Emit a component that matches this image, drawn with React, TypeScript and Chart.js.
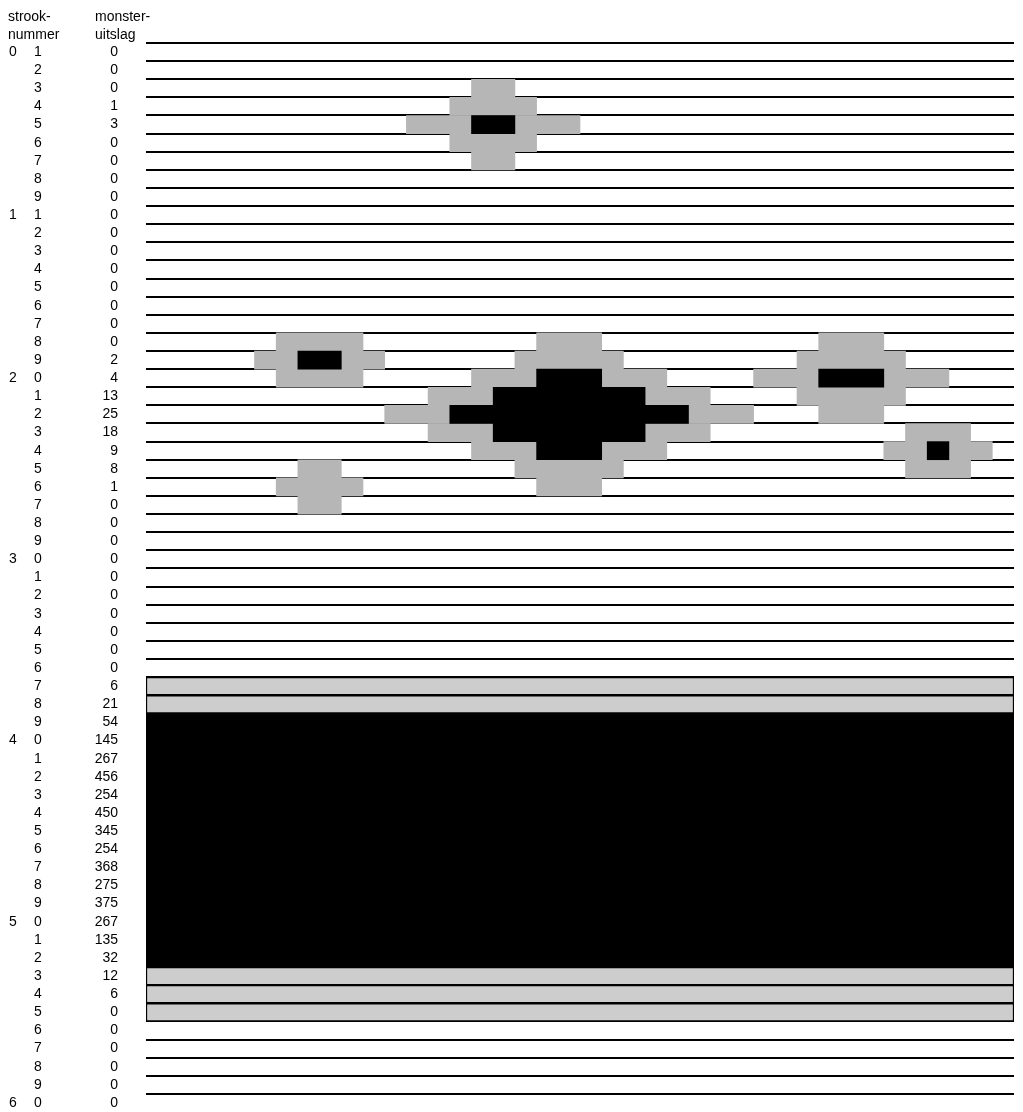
import { useEffect, useRef } from "react";
import { Chart, registerables } from "chart.js";

Chart.register(...registerables);

// strook numbers (row labels), top to bottom
const strook = [
  "01", "02", "03", "04", "05", "06", "07", "08", "09",
  "11", "12", "13", "14", "15", "16", "17", "18", "19",
  "20", "21", "22", "23", "24", "25", "26", "27", "28", "29",
  "30", "31", "32", "33", "34", "35", "36", "37", "38", "39",
  "40", "41", "42", "43", "44", "45", "46", "47", "48", "49",
  "50", "51", "52", "53", "54", "55", "56", "57", "58", "59",
  "60",
];

// monster-uitslag per strook
const uitslag = [
  0, 0, 0, 1, 3, 0, 0, 0, 0,
  0, 0, 0, 0, 0, 0, 0, 0, 2,
  4, 13, 25, 18, 9, 8, 1, 0, 0, 0,
  0, 0, 0, 0, 0, 0, 0, 6, 21, 54,
  145, 267, 456, 254, 450, 345, 254, 368, 275, 375,
  267, 135, 32, 12, 6, 0, 0, 0, 0, 0,
  0,
];

// horizontal position along the strip, in half-cell units
const X_MIN = 0;
const X_MAX = 40;

// [strook, from, to]
const grayCells: [string, number, number][] = [
  ["03", 15, 17], ["04", 14, 18], ["05", 12, 15], ["05", 17, 20], ["06", 14, 18], ["07", 15, 17],
  ["18", 6, 10], ["18", 18, 21], ["18", 31, 34],
  ["19", 5, 7], ["19", 9, 11], ["19", 17, 22], ["19", 30, 35],
  ["20", 6, 10], ["20", 15, 18], ["20", 21, 24], ["20", 28, 31], ["20", 34, 37],
  ["21", 13, 16], ["21", 23, 26], ["21", 30, 35],
  ["22", 11, 14], ["22", 25, 28], ["22", 31, 34],
  ["23", 13, 16], ["23", 23, 26], ["23", 35, 38],
  ["24", 15, 18], ["24", 21, 24], ["24", 34, 36], ["24", 37, 39],
  ["25", 7, 9], ["25", 17, 22], ["25", 35, 38],
  ["26", 6, 10], ["26", 18, 21],
  ["27", 7, 9],
];

const blackCells: [string, number, number][] = [
  ["05", 15, 17],
  ["19", 7, 9],
  ["20", 18, 21], ["20", 31, 34],
  ["21", 16, 23],
  ["22", 14, 25],
  ["23", 16, 23],
  ["24", 18, 21], ["24", 36, 37],
];

const grayBands = ["37", "38", "53", "54", "55"];
const blackBands = ["39", "40", "41", "42", "43", "44", "45", "46", "47", "48", "49", "50", "51", "52"];

const FONT = '"Liberation Sans", Arial, sans-serif';

export default function App() {
  const ref = useRef<HTMLCanvasElement>(null);

  useEffect(() => {
    if (!ref.current) return;

    const labelsPlugin = {
      id: "strookLabels",
      afterDraw(chart: any) {
        const ctx = chart.ctx;
        const yScale = chart.scales.y;
        ctx.save();
        ctx.fillStyle = "#000";
        ctx.font = `14px ${FONT}`;
        ctx.textAlign = "left";
        ctx.textBaseline = "alphabetic";
        ctx.fillText("strook-", 8, 21);
        ctx.fillText("nummer", 8, 39);
        ctx.fillText("monster-", 95, 21);
        ctx.fillText("uitslag", 95, 39);
        ctx.textAlign = "center";
        ctx.textBaseline = "middle";
        strook.forEach((s, i) => {
          const y = yScale.getPixelForValue(i);
          const tens = s.charAt(0);
          const unit = s.charAt(1);
          if (i === 0 || strook[i - 1].charAt(0) !== tens) {
            ctx.fillText(tens, 13, y);
          }
          ctx.fillText(unit, 38, y);
        });
        ctx.restore();
      },
    };

    const toBars = (cells: [string, number, number][]) =>
      cells.map(([r, a, b]) => ({ y: r, x: [a, b] }));
    const toBands = (rows: string[]) => rows.map((r) => ({ y: r, x: [X_MIN, X_MAX] }));

    const common = {
      grouped: false,
      barPercentage: 1,
      categoryPercentage: 1,
      borderSkipped: false,
    };

    const chart = new Chart(ref.current, {
      type: "bar",
      data: {
        labels: strook,
        datasets: [
          {
            label: "zwart",
            data: toBars(blackCells) as any,
            backgroundColor: "#000",
            borderWidth: 0,
            ...common,
          },
          {
            label: "grijs",
            data: toBars(grayCells) as any,
            backgroundColor: "#b6b6b6",
            borderWidth: 0,
            ...common,
          },
          {
            label: "band grijs",
            data: toBands(grayBands) as any,
            backgroundColor: "#cdcdcd",
            borderColor: "#000",
            borderWidth: 1.5,
            ...common,
          },
          {
            label: "band zwart",
            data: toBands(blackBands) as any,
            backgroundColor: "#000",
            borderColor: "#000",
            borderWidth: 0,
            ...common,
          },
        ],
      },
      options: {
        indexAxis: "y",
        animation: false,
        responsive: false,
        devicePixelRatio: 1,
        layout: { padding: { left: 0, right: 9, top: 43, bottom: 0 } },
        plugins: {
          legend: { display: false },
          tooltip: { enabled: false },
        },
        scales: {
          x: {
            type: "linear",
            min: X_MIN,
            max: X_MAX,
            display: false,
          },
          y: {
            type: "category",
            offset: true,
            z: 1,
            border: { display: false },
            grid: {
              color: (c: any) =>
                c.type !== "tick" || c.index === undefined || c.index >= strook.length
                  ? "rgba(0,0,0,0)"
                  : "#000",
              lineWidth: 2,
              drawTicks: false,
              offset: true,
            },
            ticks: {
              autoSkip: false,
              padding: 28,
              color: "#000",
              font: { family: FONT, size: 14 },
              callback: (_v: any, i: number) => String(uitslag[i]),
            },
            afterFit: (scale: any) => {
              scale.width = 146;
              scale.paddingTop = 0;
              scale.paddingBottom = 0;
            },
          },
        },
      } as any,
      plugins: [labelsPlugin],
    });

    return () => chart.destroy();
  }, []);

  return (
    <div style={{ position: "absolute", left: 0, top: 0, width: 1023, height: 1112, background: "#fff" }}>
      <canvas ref={ref} width={1023} height={1112} style={{ display: "block" }} />
    </div>
  );
}
